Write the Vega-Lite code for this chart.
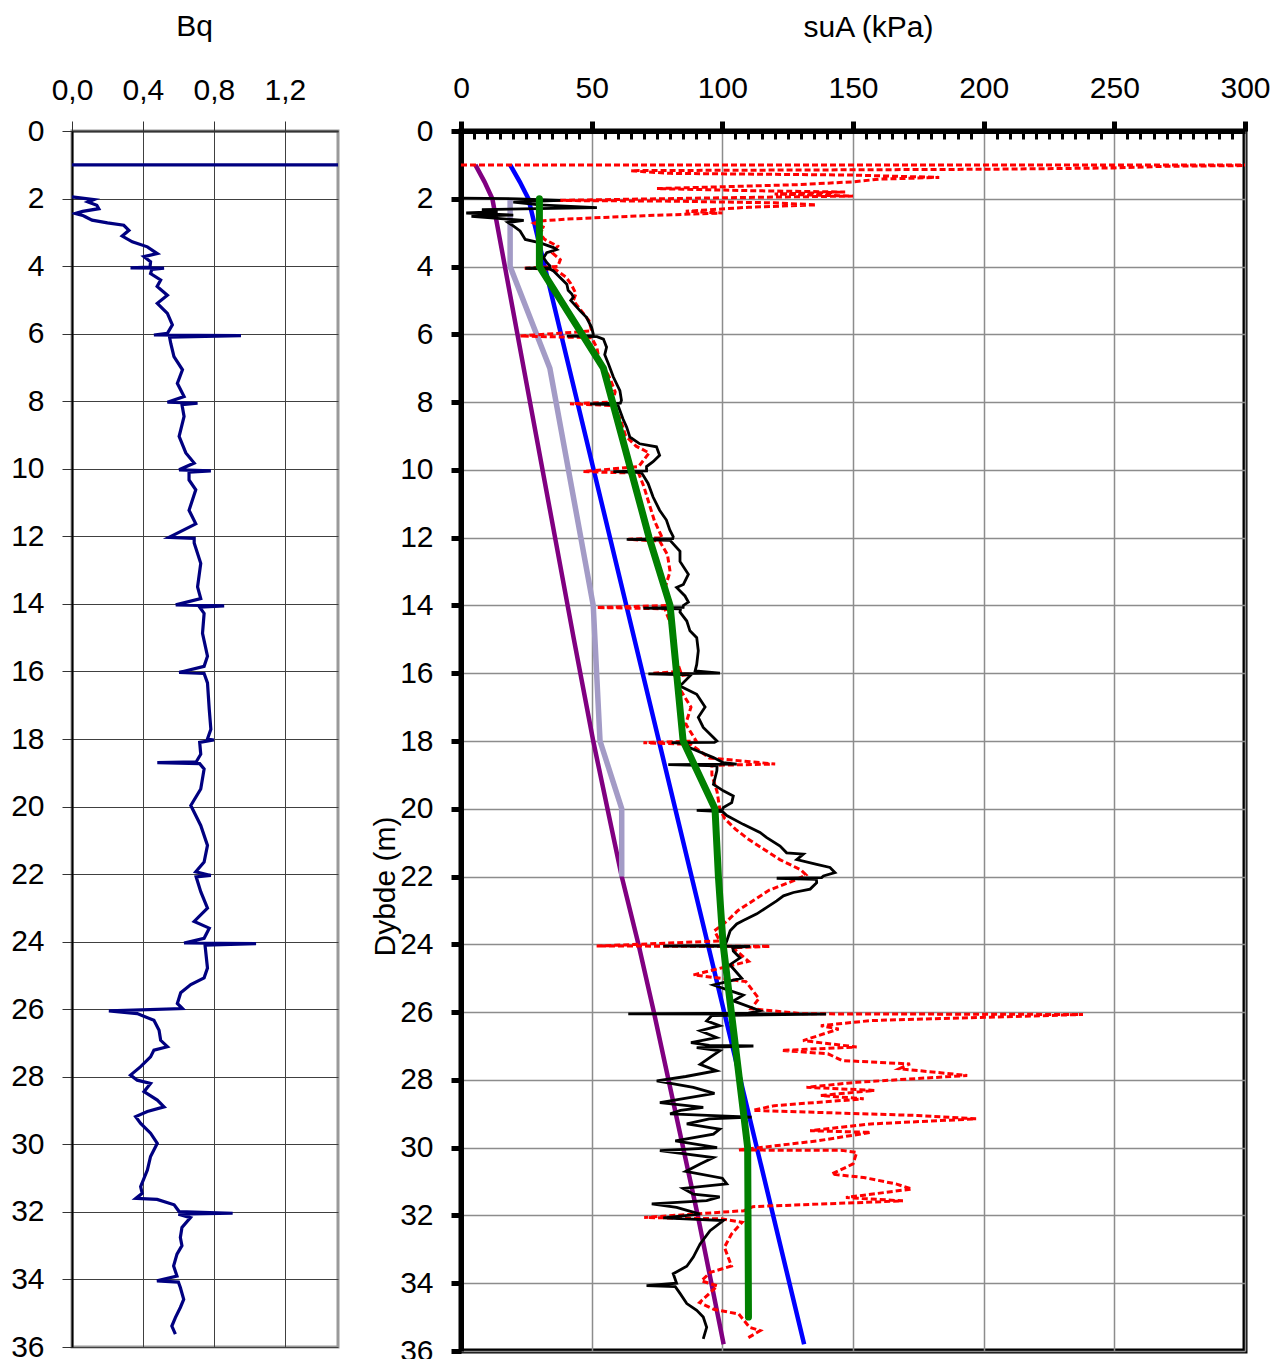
{
  "$schema": "https://vega.github.io/schema/vega-lite/v6.json",
  "config": {
    "font": "Liberation Sans",
    "axis": {"labelFont": "Liberation Sans", "titleFont": "Liberation Sans", "labelFontSize": 30, "titleFontSize": 30, "labelColor": "black", "titleColor": "black", "titleFontWeight": "normal", "labelFlush": false}
  },
  "padding": {"left": 9, "top": 9, "right": 5, "bottom": 0},
  "bounds": "flush",
  "spacing": 123,
  "datasets": {
    "bq": [
      {"s": "a", "d": 1, "v": 0}, {"s": "a", "d": 1, "v": 1.6},
      {"s": "b", "d": 1.95, "v": 0}, {"s": "b", "d": 2.03, "v": 0.123}, {"s": "b", "d": 2.1, "v": 0.09}, {"s": "b", "d": 2.2, "v": 0.14}, {"s": "b", "d": 2.3, "v": 0.151}, {"s": "b", "d": 2.38, "v": 0.06}, {"s": "b", "d": 2.44, "v": 0.019}, {"s": "b", "d": 2.5, "v": 0.06}, {"s": "b", "d": 2.54, "v": 0.075}, {"s": "b", "d": 2.64, "v": 0.113}, {"s": "b", "d": 2.72, "v": 0.2}, {"s": "b", "d": 2.79, "v": 0.292}, {"s": "b", "d": 2.94, "v": 0.321}, {"s": "b", "d": 3.11, "v": 0.283}, {"s": "b", "d": 3.28, "v": 0.34}, {"s": "b", "d": 3.43, "v": 0.425}, {"s": "b", "d": 3.63, "v": 0.481}, {"s": "b", "d": 3.72, "v": 0.406}, {"s": "b", "d": 3.87, "v": 0.443}, {"s": "b", "d": 4.03, "v": 0.44}, {"s": "b", "d": 4.05, "v": 0.33}, {"s": "b", "d": 4.06, "v": 0.519}, {"s": "b", "d": 4.1, "v": 0.45}, {"s": "b", "d": 4.22, "v": 0.443}, {"s": "b", "d": 4.41, "v": 0.5}, {"s": "b", "d": 4.6, "v": 0.48}, {"s": "b", "d": 4.86, "v": 0.538}, {"s": "b", "d": 5.1, "v": 0.481}, {"s": "b", "d": 5.4, "v": 0.538}, {"s": "b", "d": 5.74, "v": 0.566}, {"s": "b", "d": 5.99, "v": 0.538}, {"s": "b", "d": 6.04, "v": 0.462}, {"s": "b", "d": 6.06, "v": 0.953}, {"s": "b", "d": 6.1, "v": 0.55}, {"s": "b", "d": 6.29, "v": 0.557}, {"s": "b", "d": 6.68, "v": 0.575}, {"s": "b", "d": 7.07, "v": 0.623}, {"s": "b", "d": 7.47, "v": 0.594}, {"s": "b", "d": 7.86, "v": 0.632}, {"s": "b", "d": 8.03, "v": 0.538}, {"s": "b", "d": 8.06, "v": 0.708}, {"s": "b", "d": 8.1, "v": 0.62}, {"s": "b", "d": 8.45, "v": 0.632}, {"s": "b", "d": 9.04, "v": 0.604}, {"s": "b", "d": 9.53, "v": 0.642}, {"s": "b", "d": 9.83, "v": 0.689}, {"s": "b", "d": 10.03, "v": 0.604}, {"s": "b", "d": 10.06, "v": 0.783}, {"s": "b", "d": 10.1, "v": 0.66}, {"s": "b", "d": 10.33, "v": 0.66}, {"s": "b", "d": 10.62, "v": 0.698}, {"s": "b", "d": 11.23, "v": 0.66}, {"s": "b", "d": 11.63, "v": 0.698}, {"s": "b", "d": 12.03, "v": 0.547}, {"s": "b", "d": 12.06, "v": 0.689}, {"s": "b", "d": 12.2, "v": 0.689}, {"s": "b", "d": 12.8, "v": 0.726}, {"s": "b", "d": 13.5, "v": 0.708}, {"s": "b", "d": 13.84, "v": 0.726}, {"s": "b", "d": 14.03, "v": 0.585}, {"s": "b", "d": 14.06, "v": 0.858}, {"s": "b", "d": 14.1, "v": 0.72}, {"s": "b", "d": 14.28, "v": 0.745}, {"s": "b", "d": 14.87, "v": 0.736}, {"s": "b", "d": 15.55, "v": 0.764}, {"s": "b", "d": 15.85, "v": 0.745}, {"s": "b", "d": 16.03, "v": 0.604}, {"s": "b", "d": 16.06, "v": 0.745}, {"s": "b", "d": 16.34, "v": 0.764}, {"s": "b", "d": 17.12, "v": 0.774}, {"s": "b", "d": 17.71, "v": 0.783}, {"s": "b", "d": 18.0, "v": 0.764}, {"s": "b", "d": 18.03, "v": 0.8}, {"s": "b", "d": 18.1, "v": 0.72}, {"s": "b", "d": 18.45, "v": 0.726}, {"s": "b", "d": 18.68, "v": 0.7}, {"s": "b", "d": 18.7, "v": 0.481}, {"s": "b", "d": 18.73, "v": 0.72}, {"s": "b", "d": 18.89, "v": 0.745}, {"s": "b", "d": 19.48, "v": 0.726}, {"s": "b", "d": 19.97, "v": 0.67}, {"s": "b", "d": 20.56, "v": 0.726}, {"s": "b", "d": 21.15, "v": 0.764}, {"s": "b", "d": 21.64, "v": 0.745}, {"s": "b", "d": 21.93, "v": 0.698}, {"s": "b", "d": 22.04, "v": 0.783}, {"s": "b", "d": 22.08, "v": 0.7}, {"s": "b", "d": 22.52, "v": 0.726}, {"s": "b", "d": 23.01, "v": 0.764}, {"s": "b", "d": 23.4, "v": 0.689}, {"s": "b", "d": 23.6, "v": 0.774}, {"s": "b", "d": 23.9, "v": 0.745}, {"s": "b", "d": 24.04, "v": 0.632}, {"s": "b", "d": 24.06, "v": 1.038}, {"s": "b", "d": 24.1, "v": 0.75}, {"s": "b", "d": 24.78, "v": 0.764}, {"s": "b", "d": 25.07, "v": 0.745}, {"s": "b", "d": 25.27, "v": 0.67}, {"s": "b", "d": 25.51, "v": 0.613}, {"s": "b", "d": 25.83, "v": 0.594}, {"s": "b", "d": 25.98, "v": 0.623}, {"s": "b", "d": 26.05, "v": 0.208}, {"s": "b", "d": 26.13, "v": 0.368}, {"s": "b", "d": 26.33, "v": 0.462}, {"s": "b", "d": 26.62, "v": 0.491}, {"s": "b", "d": 26.92, "v": 0.5}, {"s": "b", "d": 27.11, "v": 0.538}, {"s": "b", "d": 27.21, "v": 0.462}, {"s": "b", "d": 27.41, "v": 0.443}, {"s": "b", "d": 27.7, "v": 0.387}, {"s": "b", "d": 27.95, "v": 0.33}, {"s": "b", "d": 28.1, "v": 0.368}, {"s": "b", "d": 28.2, "v": 0.443}, {"s": "b", "d": 28.44, "v": 0.406}, {"s": "b", "d": 28.69, "v": 0.481}, {"s": "b", "d": 28.89, "v": 0.519}, {"s": "b", "d": 29.03, "v": 0.425}, {"s": "b", "d": 29.18, "v": 0.359}, {"s": "b", "d": 29.38, "v": 0.387}, {"s": "b", "d": 29.67, "v": 0.443}, {"s": "b", "d": 29.97, "v": 0.481}, {"s": "b", "d": 30.36, "v": 0.443}, {"s": "b", "d": 30.76, "v": 0.425}, {"s": "b", "d": 31.25, "v": 0.387}, {"s": "b", "d": 31.45, "v": 0.396}, {"s": "b", "d": 31.6, "v": 0.36}, {"s": "b", "d": 31.63, "v": 0.48}, {"s": "b", "d": 31.79, "v": 0.576}, {"s": "b", "d": 31.99, "v": 0.604}, {"s": "b", "d": 32.04, "v": 0.906}, {"s": "b", "d": 32.07, "v": 0.6}, {"s": "b", "d": 32.17, "v": 0.668}, {"s": "b", "d": 32.46, "v": 0.62}, {"s": "b", "d": 32.76, "v": 0.611}, {"s": "b", "d": 33.0, "v": 0.62}, {"s": "b", "d": 33.25, "v": 0.592}, {"s": "b", "d": 33.6, "v": 0.573}, {"s": "b", "d": 33.9, "v": 0.592}, {"s": "b", "d": 34.04, "v": 0.479}, {"s": "b", "d": 34.08, "v": 0.6}, {"s": "b", "d": 34.24, "v": 0.611}, {"s": "b", "d": 34.59, "v": 0.63}, {"s": "b", "d": 34.83, "v": 0.611}, {"s": "b", "d": 35.13, "v": 0.583}, {"s": "b", "d": 35.38, "v": 0.563}, {"s": "b", "d": 35.62, "v": 0.583}
    ],
    "black": [
      {"d": 1.98, "v": 0}, {"d": 2.0, "v": 22}, {"d": 2.05, "v": 38}, {"d": 2.1, "v": 20}, {"d": 2.18, "v": 30}, {"d": 2.26, "v": 52}, {"d": 2.32, "v": 8}, {"d": 2.38, "v": 14}, {"d": 2.42, "v": 2}, {"d": 2.48, "v": 20}, {"d": 2.52, "v": 4}, {"d": 2.58, "v": 14}, {"d": 2.64, "v": 24}, {"d": 2.7, "v": 18}, {"d": 2.8, "v": 20}, {"d": 2.95, "v": 22.6}, {"d": 3.2, "v": 24.6}, {"d": 3.3, "v": 30.3}, {"d": 3.44, "v": 35.4}, {"d": 3.5, "v": 36.6}, {"d": 3.59, "v": 32.8}, {"d": 3.74, "v": 31.6}, {"d": 3.88, "v": 32.8}, {"d": 3.98, "v": 34}, {"d": 4.03, "v": 34}, {"d": 4.05, "v": 24.6}, {"d": 4.07, "v": 34}, {"d": 4.13, "v": 35.4}, {"d": 4.32, "v": 37.9}, {"d": 4.52, "v": 40.5}, {"d": 4.7, "v": 41}, {"d": 4.81, "v": 42.4}, {"d": 4.9, "v": 43}, {"d": 5.0, "v": 42}, {"d": 5.3, "v": 45.5}, {"d": 5.5, "v": 48}, {"d": 5.8, "v": 50}, {"d": 5.99, "v": 50.6}, {"d": 6.04, "v": 50.6}, {"d": 6.05, "v": 40.5}, {"d": 6.07, "v": 52}, {"d": 6.14, "v": 54.5}, {"d": 6.38, "v": 55.7}, {"d": 6.6, "v": 55}, {"d": 6.87, "v": 56.4}, {"d": 7.26, "v": 58.3}, {"d": 7.66, "v": 60.8}, {"d": 7.95, "v": 61.4}, {"d": 8.03, "v": 61}, {"d": 8.05, "v": 49.4}, {"d": 8.08, "v": 60}, {"d": 8.25, "v": 60.8}, {"d": 8.5, "v": 62}, {"d": 8.74, "v": 63.4}, {"d": 9.03, "v": 64.6}, {"d": 9.23, "v": 68.4}, {"d": 9.32, "v": 74.8}, {"d": 9.57, "v": 76}, {"d": 9.76, "v": 73.5}, {"d": 9.9, "v": 71}, {"d": 10.03, "v": 71}, {"d": 10.05, "v": 58.3}, {"d": 10.08, "v": 69}, {"d": 10.16, "v": 69.7}, {"d": 10.4, "v": 71.6}, {"d": 10.8, "v": 73.5}, {"d": 11.19, "v": 76}, {"d": 11.48, "v": 78.6}, {"d": 11.77, "v": 79.9}, {"d": 11.97, "v": 81.2}, {"d": 12.03, "v": 81}, {"d": 12.05, "v": 63.4}, {"d": 12.08, "v": 80}, {"d": 12.4, "v": 83.8}, {"d": 12.7, "v": 83.8}, {"d": 13.08, "v": 87}, {"d": 13.38, "v": 85.1}, {"d": 13.47, "v": 82.5}, {"d": 13.72, "v": 85.7}, {"d": 13.9, "v": 87}, {"d": 14.0, "v": 85.1}, {"d": 14.06, "v": 85}, {"d": 14.08, "v": 69.8}, {"d": 14.1, "v": 84}, {"d": 14.2, "v": 83.8}, {"d": 14.46, "v": 86.4}, {"d": 14.75, "v": 87.6}, {"d": 14.95, "v": 90.2}, {"d": 15.34, "v": 90.8}, {"d": 15.74, "v": 90.2}, {"d": 15.93, "v": 89.6}, {"d": 16.0, "v": 99.1}, {"d": 16.02, "v": 71.7}, {"d": 16.05, "v": 88}, {"d": 16.38, "v": 83.8}, {"d": 16.62, "v": 90.2}, {"d": 17.0, "v": 93.4}, {"d": 17.3, "v": 90.8}, {"d": 17.6, "v": 92.7}, {"d": 17.9, "v": 96.6}, {"d": 18.0, "v": 97.9}, {"d": 18.04, "v": 97}, {"d": 18.05, "v": 80.6}, {"d": 18.08, "v": 86}, {"d": 18.2, "v": 87.6}, {"d": 18.49, "v": 96.6}, {"d": 18.64, "v": 100.4}, {"d": 18.68, "v": 105.5}, {"d": 18.7, "v": 79.3}, {"d": 18.73, "v": 98}, {"d": 18.88, "v": 97.9}, {"d": 19.28, "v": 96.6}, {"d": 19.47, "v": 100.4}, {"d": 19.62, "v": 104.2}, {"d": 19.82, "v": 103.6}, {"d": 19.96, "v": 100.4}, {"d": 20.03, "v": 100}, {"d": 20.05, "v": 90.2}, {"d": 20.08, "v": 100}, {"d": 20.2, "v": 101.7}, {"d": 20.46, "v": 108}, {"d": 20.7, "v": 114.4}, {"d": 20.85, "v": 117}, {"d": 21.1, "v": 122.1}, {"d": 21.3, "v": 124.6}, {"d": 21.34, "v": 131}, {"d": 21.5, "v": 128.5}, {"d": 21.64, "v": 136.1}, {"d": 21.73, "v": 141.2}, {"d": 21.88, "v": 143.1}, {"d": 21.98, "v": 138.7}, {"d": 22.03, "v": 138}, {"d": 22.05, "v": 120.8}, {"d": 22.08, "v": 136}, {"d": 22.18, "v": 136.1}, {"d": 22.37, "v": 133.6}, {"d": 22.47, "v": 127.2}, {"d": 22.57, "v": 123.4}, {"d": 22.72, "v": 120.8}, {"d": 22.91, "v": 117}, {"d": 23.1, "v": 113.2}, {"d": 23.3, "v": 108}, {"d": 23.4, "v": 105.5}, {"d": 23.6, "v": 103}, {"d": 23.9, "v": 101.7}, {"d": 24.03, "v": 101}, {"d": 24.05, "v": 77.4}, {"d": 24.06, "v": 110.6}, {"d": 24.1, "v": 104}, {"d": 24.2, "v": 104.2}, {"d": 24.4, "v": 106.8}, {"d": 24.6, "v": 102.9}, {"d": 25.0, "v": 107.4}, {"d": 25.2, "v": 96.6}, {"d": 25.5, "v": 108}, {"d": 25.67, "v": 104.2}, {"d": 25.96, "v": 114.4}, {"d": 26.03, "v": 110}, {"d": 26.05, "v": 64}, {"d": 26.06, "v": 139.7}, {"d": 26.1, "v": 96}, {"d": 26.26, "v": 94}, {"d": 26.4, "v": 99}, {"d": 26.55, "v": 91.5}, {"d": 26.75, "v": 97.8}, {"d": 26.9, "v": 88}, {"d": 26.98, "v": 95}, {"d": 27.0, "v": 111.9}, {"d": 27.05, "v": 90.2}, {"d": 27.14, "v": 99.1}, {"d": 27.3, "v": 96}, {"d": 27.54, "v": 91.5}, {"d": 27.73, "v": 97.8}, {"d": 27.9, "v": 86}, {"d": 28.03, "v": 74.9}, {"d": 28.22, "v": 88.9}, {"d": 28.4, "v": 97}, {"d": 28.67, "v": 76.1}, {"d": 28.81, "v": 92.7}, {"d": 28.9, "v": 84}, {"d": 29.0, "v": 80}, {"d": 29.1, "v": 111.2}, {"d": 29.15, "v": 95}, {"d": 29.3, "v": 86.4}, {"d": 29.45, "v": 99}, {"d": 29.6, "v": 96.6}, {"d": 29.8, "v": 82}, {"d": 30.0, "v": 98}, {"d": 30.09, "v": 76.1}, {"d": 30.29, "v": 96.6}, {"d": 30.48, "v": 91.5}, {"d": 30.7, "v": 86}, {"d": 30.9, "v": 100}, {"d": 31.07, "v": 101.7}, {"d": 31.2, "v": 85}, {"d": 31.37, "v": 88.9}, {"d": 31.45, "v": 99}, {"d": 31.56, "v": 94}, {"d": 31.66, "v": 73}, {"d": 31.76, "v": 82.5}, {"d": 31.96, "v": 91.5}, {"d": 32.07, "v": 77.4}, {"d": 32.15, "v": 100.4}, {"d": 32.45, "v": 95.3}, {"d": 32.84, "v": 91.5}, {"d": 33.23, "v": 88.9}, {"d": 33.5, "v": 86.4}, {"d": 33.72, "v": 81.2}, {"d": 34.0, "v": 82.5}, {"d": 34.07, "v": 71}, {"d": 34.1, "v": 82}, {"d": 34.3, "v": 83.8}, {"d": 34.6, "v": 86.4}, {"d": 34.8, "v": 90.2}, {"d": 35.0, "v": 92.7}, {"d": 35.3, "v": 94}, {"d": 35.64, "v": 92.7}
    ],
    "red": [
      {"d": 1.0, "v": 0}, {"d": 1.0, "v": 320}, {"d": 1.02, "v": 300}, {"d": 1.04, "v": 270}, {"d": 1.06, "v": 262}, {"d": 1.09, "v": 250}, {"d": 1.13, "v": 200}, {"d": 1.17, "v": 65}, {"d": 1.2, "v": 70}, {"d": 1.25, "v": 80}, {"d": 1.3, "v": 150}, {"d": 1.37, "v": 183}, {"d": 1.42, "v": 160}, {"d": 1.5, "v": 150}, {"d": 1.58, "v": 130}, {"d": 1.7, "v": 75}, {"d": 1.76, "v": 110}, {"d": 1.8, "v": 147}, {"d": 1.86, "v": 120}, {"d": 1.92, "v": 150}, {"d": 1.97, "v": 100}, {"d": 2.05, "v": 35}, {"d": 2.07, "v": 80}, {"d": 2.12, "v": 120}, {"d": 2.18, "v": 136}, {"d": 2.25, "v": 110}, {"d": 2.37, "v": 86}, {"d": 2.42, "v": 100}, {"d": 2.5, "v": 70}, {"d": 2.6, "v": 40}, {"d": 2.66, "v": 30}, {"d": 2.72, "v": 28}, {"d": 2.85, "v": 32}, {"d": 3.0, "v": 30}, {"d": 3.2, "v": 32}, {"d": 3.4, "v": 37}, {"d": 3.6, "v": 35}, {"d": 3.8, "v": 38}, {"d": 4.0, "v": 37}, {"d": 4.05, "v": 24}, {"d": 4.08, "v": 36}, {"d": 4.3, "v": 40}, {"d": 4.5, "v": 42}, {"d": 4.8, "v": 44}, {"d": 5.0, "v": 43}, {"d": 5.3, "v": 46}, {"d": 5.6, "v": 49}, {"d": 5.9, "v": 50}, {"d": 6.05, "v": 22.6}, {"d": 6.1, "v": 50}, {"d": 6.4, "v": 52}, {"d": 6.8, "v": 53}, {"d": 7.0, "v": 55}, {"d": 7.3, "v": 57}, {"d": 7.7, "v": 59}, {"d": 8.0, "v": 58}, {"d": 8.05, "v": 41.7}, {"d": 8.1, "v": 58}, {"d": 8.5, "v": 61}, {"d": 9.0, "v": 63}, {"d": 9.3, "v": 67}, {"d": 9.5, "v": 72}, {"d": 9.7, "v": 70}, {"d": 9.9, "v": 68}, {"d": 10.05, "v": 46.8}, {"d": 10.1, "v": 68}, {"d": 10.5, "v": 70}, {"d": 11.0, "v": 72}, {"d": 11.5, "v": 74}, {"d": 12.0, "v": 77}, {"d": 12.05, "v": 64}, {"d": 12.1, "v": 76}, {"d": 12.5, "v": 79}, {"d": 13.0, "v": 80}, {"d": 13.5, "v": 78}, {"d": 14.0, "v": 80}, {"d": 14.06, "v": 51.9}, {"d": 14.1, "v": 78}, {"d": 14.5, "v": 80}, {"d": 15.0, "v": 82}, {"d": 15.5, "v": 82}, {"d": 15.95, "v": 84}, {"d": 16.0, "v": 73.6}, {"d": 16.03, "v": 87.6}, {"d": 16.1, "v": 82}, {"d": 16.5, "v": 84}, {"d": 17.0, "v": 88}, {"d": 17.5, "v": 86}, {"d": 18.0, "v": 90}, {"d": 18.05, "v": 69.8}, {"d": 18.1, "v": 88}, {"d": 18.5, "v": 95}, {"d": 18.68, "v": 120.2}, {"d": 18.72, "v": 96}, {"d": 19.0, "v": 96}, {"d": 19.5, "v": 98}, {"d": 20.0, "v": 99}, {"d": 20.3, "v": 101}, {"d": 20.6, "v": 105}, {"d": 20.9, "v": 110}, {"d": 21.2, "v": 116}, {"d": 21.5, "v": 122}, {"d": 21.8, "v": 130}, {"d": 21.95, "v": 132}, {"d": 22.1, "v": 128}, {"d": 22.4, "v": 118}, {"d": 22.7, "v": 112}, {"d": 23.0, "v": 106}, {"d": 23.3, "v": 102}, {"d": 23.6, "v": 97}, {"d": 23.9, "v": 99}, {"d": 24.05, "v": 51.9}, {"d": 24.06, "v": 118.3}, {"d": 24.1, "v": 104}, {"d": 24.5, "v": 110}, {"d": 24.9, "v": 89}, {"d": 25.1, "v": 109}, {"d": 25.6, "v": 114}, {"d": 25.9, "v": 111}, {"d": 26.05, "v": 131}, {"d": 26.07, "v": 238}, {"d": 26.25, "v": 156.8}, {"d": 26.4, "v": 137.7}, {"d": 26.5, "v": 144.5}, {"d": 26.84, "v": 130.9}, {"d": 27.03, "v": 151.4}, {"d": 27.13, "v": 122.7}, {"d": 27.23, "v": 140.4}, {"d": 27.43, "v": 145.9}, {"d": 27.53, "v": 171.8}, {"d": 27.67, "v": 167.7}, {"d": 27.87, "v": 193.7}, {"d": 28.07, "v": 151.4}, {"d": 28.22, "v": 132.2}, {"d": 28.31, "v": 158.2}, {"d": 28.46, "v": 137.7}, {"d": 28.56, "v": 154.1}, {"d": 28.76, "v": 119.9}, {"d": 28.9, "v": 111.7}, {"d": 29.05, "v": 174.6}, {"d": 29.15, "v": 197.1}, {"d": 29.3, "v": 156.8}, {"d": 29.5, "v": 133.6}, {"d": 29.55, "v": 156.8}, {"d": 29.8, "v": 136.3}, {"d": 30.07, "v": 106.3}, {"d": 30.08, "v": 145.9}, {"d": 30.14, "v": 151.4}, {"d": 30.48, "v": 150}, {"d": 30.78, "v": 141.8}, {"d": 30.88, "v": 154.1}, {"d": 31.07, "v": 166.4}, {"d": 31.22, "v": 172.5}, {"d": 31.47, "v": 147.3}, {"d": 31.57, "v": 169.1}, {"d": 31.74, "v": 111.7}, {"d": 31.86, "v": 108.3}, {"d": 32.06, "v": 70.1}, {"d": 32.1, "v": 99.5}, {"d": 32.2, "v": 107.6}, {"d": 32.55, "v": 103.5}, {"d": 32.94, "v": 100.8}, {"d": 33.49, "v": 103.5}, {"d": 33.68, "v": 95.4}, {"d": 33.93, "v": 92}, {"d": 34.08, "v": 98.1}, {"d": 34.57, "v": 91.3}, {"d": 34.77, "v": 96.7}, {"d": 34.91, "v": 106.3}, {"d": 35.3, "v": 110.4}, {"d": 35.4, "v": 114.5}, {"d": 35.65, "v": 109}
    ],
    "purple": [
      {"d": 1, "v": 5.5}, {"d": 1.5, "v": 9}, {"d": 2, "v": 12}, {"d": 7.5, "v": 25.2}, {"d": 12, "v": 36}, {"d": 15, "v": 43.2}, {"d": 18, "v": 50.6}, {"d": 22, "v": 61.5}, {"d": 24, "v": 67.9}, {"d": 26, "v": 73.8}, {"d": 32, "v": 90.6}, {"d": 35.8, "v": 100.5}
    ],
    "lavender": [
      {"d": 2, "v": 18.8}, {"d": 4, "v": 18.8}, {"d": 7, "v": 34}, {"d": 14, "v": 50.6}, {"d": 18, "v": 53.2}, {"d": 20, "v": 61.5}, {"d": 22, "v": 61.5}
    ],
    "blue": [
      {"d": 1, "v": 18.8}, {"d": 1.5, "v": 22.5}, {"d": 2, "v": 25.8}, {"d": 35.8, "v": 131.3}
    ],
    "green": [
      {"d": 2, "v": 30}, {"d": 4, "v": 30}, {"d": 7, "v": 54.5}, {"d": 12, "v": 72}, {"d": 14, "v": 80}, {"d": 18, "v": 85}, {"d": 20, "v": 97.2}, {"d": 22, "v": 98.5}, {"d": 24, "v": 100.3}, {"d": 30, "v": 109.7}, {"d": 35, "v": 110}
    ]
  },
  "hconcat": [
    {
      "width": 266,
      "height": 1216,
      "view": {"stroke": "#9a9a9a", "strokeWidth": 3},
      "data": {"name": "bq"},
      "mark": {"type": "line", "color": "#000080", "strokeWidth": 3.2, "clip": true},
      "encoding": {
        "x": {
          "field": "v", "type": "quantitative",
          "scale": {"domain": [0, 1.5], "nice": false, "zero": false},
          "axis": {
            "orient": "top", "values": [0, 0.4, 0.8, 1.2],
            "labelExpr": "replace(format(datum.value, '.1f'), '.', ',')",
            "title": "Bq", "titleX": 122, "titleY": -105, "titleBaseline": "middle", "titleAlign": "center", "titleAnchor": null,
            "tickSize": 10, "tickColor": "#333333", "tickWidth": 1,
            "domainColor": "#333333", "domainWidth": 2,
            "labelPadding": 16, "grid": true, "gridColor": "#404040", "gridWidth": 1
          }
        },
        "y": {
          "field": "d", "type": "quantitative",
          "scale": {"domain": [0, 36], "reverse": true, "nice": false, "zero": false},
          "axis": {
            "values": [0, 2, 4, 6, 8, 10, 12, 14, 16, 18, 20, 22, 24, 26, 28, 30, 32, 34, 36],
            "title": null, "tickSize": 10, "tickColor": "#333333", "tickWidth": 1,
            "domainColor": "black", "domainWidth": 2,
            "labelPadding": 18, "grid": true, "gridColor": "#404040", "gridWidth": 1
          }
        },
        "detail": {"field": "s"},
        "order": {"value": null}
      }
    },
    {
      "width": 784,
      "height": 1220,
      "view": {"stroke": "black", "strokeWidth": 5},
      "encoding": {
        "y": {
          "field": "d", "type": "quantitative",
          "scale": {"domain": [0, 36], "reverse": true, "nice": false, "zero": false},
          "axis": {
            "values": [0, 2, 4, 6, 8, 10, 12, 14, 16, 18, 20, 22, 24, 26, 28, 30, 32, 34, 36],
            "title": "Dybde (m)", "titleX": -67, "titleY": 755, "titleAngle": -90, "titleAlign": "center", "titleBaseline": "alphabetic", "titleAnchor": null,
            "tickSize": 10, "tickWidth": 5, "tickColor": "black",
            "domainColor": "black", "domainWidth": 5,
            "labelPadding": 18, "grid": true, "gridColor": "#8c8c8c", "gridWidth": 1.5
          }
        },
        "order": {"value": null}
      },
      "resolve": {"axis": {"x": "independent"}},
      "layer": [
        {
          "data": {"name": "purple"},
          "mark": {"type": "line", "color": "#800080", "strokeWidth": 4.5, "clip": true},
          "encoding": {
            "x": {
              "field": "v", "type": "quantitative",
              "scale": {"domain": [0, 300], "nice": false, "zero": false},
              "axis": {
                "orient": "top", "values": [0, 50, 100, 150, 200, 250, 300], "format": "d",
                "title": "suA (kPa)", "titleX": 407, "titleY": -104, "titleBaseline": "middle", "titleAlign": "center", "titleAnchor": null,
                "tickSize": 10, "tickWidth": 5, "tickColor": "black",
                "domainColor": "black", "domainWidth": 5,
                "labelPadding": 18, "grid": true, "gridColor": "#8c8c8c", "gridWidth": 1.5
              }
            }
          }
        },
        {
          "data": {"name": "lavender"},
          "mark": {"type": "line", "color": "#a39bc6", "strokeWidth": 5.5, "clip": true},
          "encoding": {
            "x": {
              "field": "v", "type": "quantitative",
              "axis": {
                "orient": "top", "values": [5, 10, 15, 20, 25, 30, 35, 40, 45, 55, 60, 65, 70, 75, 80, 85, 90, 95, 105, 110, 115, 120, 125, 130, 135, 140, 145, 155, 160, 165, 170, 175, 180, 185, 190, 195, 205, 210, 215, 220, 225, 230, 235, 240, 245, 255, 260, 265, 270, 275, 280, 285, 290, 295],
                "labels": false, "domain": false, "grid": false, "title": null,
                "tickSize": -8, "tickWidth": 3, "tickColor": "black"
              }
            }
          }
        },
        {
          "data": {"name": "blue"},
          "mark": {"type": "line", "color": "#0000ff", "strokeWidth": 4.5, "clip": true},
          "encoding": {"x": {"field": "v", "type": "quantitative", "axis": null}}
        },
        {
          "data": {"name": "red"},
          "mark": {"type": "line", "color": "#ff0000", "strokeWidth": 3, "strokeDash": [6, 3], "clip": true},
          "encoding": {"x": {"field": "v", "type": "quantitative", "axis": null}}
        },
        {
          "data": {"name": "black"},
          "mark": {"type": "line", "color": "black", "strokeWidth": 2.8, "clip": true},
          "encoding": {"x": {"field": "v", "type": "quantitative", "axis": null}}
        },
        {
          "data": {"name": "green"},
          "mark": {"type": "line", "color": "#008000", "strokeWidth": 7, "strokeCap": "round", "clip": true},
          "encoding": {"x": {"field": "v", "type": "quantitative", "axis": null}}
        }
      ]
    }
  ]
}
